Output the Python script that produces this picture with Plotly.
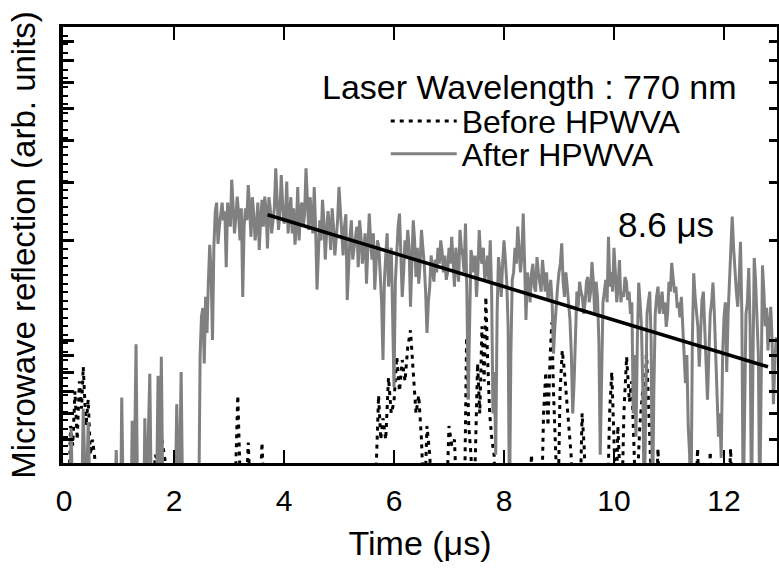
import numpy as np
import plotly.graph_objects as go

# ---------------- data ----------------
# After HPWVA: early spikes (explicit times, µs) ; values in arb. units (log axis)
after_pre_t = [0.00, 0.10, 0.13, 0.16, 0.32, 0.35, 0.40, 0.44, 0.48, 0.92, 0.95, 0.98,
               1.03, 1.05, 1.08, 1.22, 1.24, 1.27, 1.31, 1.34, 1.45, 1.47, 1.50, 1.56,
               1.59, 1.68, 1.71, 1.74, 1.77, 1.80, 2.02, 2.05, 2.09, 2.13, 2.16, 2.42]
after_pre_v = [0.30, 0.30, 0.54, 0.30, 0.30, 0.62, 0.30, 0.565, 0.30, 0.30, 0.465, 0.30,
               0.30, 0.67, 0.30, 0.30, 0.57, 0.30, 0.97, 0.30, 0.30, 0.58, 0.30, 0.79,
               0.30, 0.30, 0.78, 0.30, 0.89, 0.30, 0.30, 0.64, 0.30, 0.80, 0.30, 0.30]

# After HPWVA: main trace, samples every 0.05 µs starting at 2.45 µs ...
after_start = 2.45
after_step = 0.05
after_v = [
    0.30, 1.18, 0.85, 1.05, 1.94, 1.00, 2.44, 1.95, 2.44, 2.30,
    1.66, 2.36, 3.05, 2.10, 2.71, 2.00, 1.35, 2.50, 2.94, 2.05,
    2.41, 2.20, 1.87, 2.65, 2.71, 1.89, 2.50, 2.36, 3.30, 2.15,
    3.15, 2.25, 3.01, 2.41, 2.10, 1.94, 2.90, 2.50, 2.20, 3.30,
    2.15, 2.35, 2.90, 1.42, 2.30, 2.65, 1.75, 2.45, 1.87, 2.20,
    2.05, 2.90, 2.00, 2.20, 1.32, 2.05, 1.75, 2.10, 1.66, 2.05,
    1.87, 1.48, 2.41, 1.75, 1.42, 2.00, 1.60, 0.87, 1.80, 1.45,
    1.90, 0.72, 1.90, 2.41, 1.35, 2.00, 2.15, 1.26, 2.30, 1.55,
    1.48, 2.15, 1.70, 1.05, 1.45, 1.63, 1.75, 1.90, 2.00, 1.60,
    1.52, 1.90, 2.05, 1.45, 1.70, 2.15, 1.80, 2.25, 0.66, 1.87,
    1.60, 1.35, 2.15, 1.70, 1.52, 1.80, 2.00, 0.60, 0.45, 1.78,
    1.35, 2.00, 1.50, 0.30, 1.52, 1.90, 2.20, 1.60, 2.41, 1.15,
    1.50, 1.59, 1.45, 1.78, 1.50, 1.745, 1.40, 1.32, 1.52, 0.91,
    1.30, 1.60, 1.96, 1.35, 1.45, 1.15, 0.60, 1.00, 1.26, 1.40,
    1.20, 1.50, 1.30, 1.72, 1.20, 1.35, 0.45, 1.30, 1.52, 2.05,
    1.60, 1.90, 1.30, 1.745, 1.40, 1.55, 1.32, 1.20, 0.60, 0.51,
    1.49, 1.10, 0.30, 1.20, 1.40, 0.30, 1.20, 1.45, 1.32, 1.20,
    1.095, 1.50, 1.71, 1.39, 1.25, 1.17, 1.10, 0.74, 0.55, 0.30,
    1.59, 1.20, 0.83, 1.32, 1.10, 0.66, 1.20, 1.49, 0.90, 0.51,
    0.44, 1.17, 0.80, 1.50, 2.36, 1.60, 1.26, 1.98, 0.30, 1.20,
    1.65, 0.30, 1.77, 1.20, 0.30, 1.68, 1.10, 0.93, 1.26, 0.64,
    1.02,
]
# ... and the in-between samples (at +0.025 µs after each of the above)
after_mid_v = [
    0.90, 1.25, 1.35, 1.50, 1.60, 1.90, 2.60, 2.20, 2.60, 2.45,
    2.60, 2.20, 2.50, 2.35, 2.40, 2.50, 2.20, 2.30, 2.50, 2.70,
    2.00, 2.60, 2.30, 2.20, 2.45, 2.70, 2.10, 2.50, 2.60, 2.40,
    2.60, 2.30, 2.10, 2.70, 2.50, 2.20, 2.00, 2.60, 2.40, 2.50,
    2.70, 2.10, 2.20, 1.90, 2.00, 2.30, 2.10, 2.20, 2.50, 1.80,
    2.30, 2.40, 1.80, 2.40, 1.70, 2.30, 1.90, 2.20, 2.30, 1.70,
    2.10, 1.90, 2.00, 2.10, 1.70, 1.90, 1.30, 1.50, 2.10, 1.70,
    1.20, 1.50, 2.20, 1.80, 1.60, 1.80, 1.90, 1.70, 2.00, 1.90,
    1.70, 1.90, 1.40, 1.30, 1.80, 1.50, 1.60, 1.70, 1.85, 1.80,
    1.60, 1.70, 1.75, 1.90, 1.50, 1.90, 1.60, 1.40, 1.20, 1.75,
    1.80, 1.60, 1.80, 1.90, 1.60, 1.50, 1.40, 0.80, 1.20, 1.60,
    1.70, 1.75, 1.10, 0.90, 1.60, 1.70, 1.90, 1.80, 1.70, 1.60,
    1.30, 1.70, 1.40, 1.60, 1.40, 1.55, 1.60, 1.40, 1.30, 1.10,
    1.45, 1.70, 1.50, 1.60, 1.30, 0.90, 0.75, 1.40, 1.50, 1.35,
    1.30, 1.55, 1.40, 1.50, 1.50, 1.00, 0.80, 1.40, 1.30, 1.45,
    1.40, 1.60, 1.45, 1.30, 1.35, 1.50, 1.40, 1.30, 0.90, 1.00,
    1.30, 0.70, 0.60, 1.30, 1.00, 0.70, 1.35, 1.20, 1.40, 1.30,
    1.20, 1.40, 1.50, 1.45, 1.30, 1.35, 1.00, 0.90, 0.45, 1.00,
    1.35, 1.10, 1.00, 1.40, 0.95, 0.90, 1.30, 1.20, 0.70, 0.60,
    0.90, 1.30, 1.20, 1.80, 1.90, 1.40, 1.50, 1.20, 0.60, 1.30,
    1.10, 0.80, 1.50, 0.90, 0.70, 1.40, 1.25, 1.10, 1.00, 0.85,
]

# Before HPWVA (explicit times, µs)
before_t = [0.00, 0.08, 0.12, 0.16, 0.20, 0.24, 0.28, 0.32, 0.35, 0.40, 0.44, 0.48, 0.52, 0.56, 0.60,
            1.60, 1.66, 1.72, 1.78, 1.84, 1.88,
            3.10, 3.16, 3.22, 3.30, 3.35, 3.40, 3.55, 3.60, 3.65,
            5.65, 5.72, 5.76, 5.80, 5.85, 5.90, 5.95, 6.00, 6.05, 6.10, 6.15, 6.20, 6.25, 6.30,
            6.35, 6.40, 6.45, 6.50, 6.55, 6.60, 6.65, 6.70,
            6.95, 7.00, 7.05, 7.10, 7.15,
            7.28, 7.32, 7.36, 7.40, 7.44, 7.48, 7.52, 7.56, 7.60, 7.64, 7.67, 7.70, 7.74, 7.78, 7.82, 7.86,
            8.45, 8.50, 8.55,
            8.68, 8.72, 8.76, 8.80, 8.84, 8.87, 8.90, 8.94, 8.98, 9.02, 9.06, 9.10, 9.14, 9.18, 9.22, 9.26,
            9.38, 9.42, 9.46, 9.50,
            9.88, 9.92, 9.96, 10.00, 10.04, 10.07, 10.10, 10.14, 10.18, 10.23, 10.28, 10.32, 10.36, 10.40,
            10.47, 10.52, 10.56, 10.59, 10.62, 10.66, 10.70,
            10.76, 10.80, 10.84,
            11.48, 11.52, 11.56, 11.71, 11.75, 11.79, 12.08, 12.12, 12.16, 12.95]
before_v = [0.30, 0.30, 0.55, 0.48, 0.70, 0.50, 0.75, 0.62, 0.83, 0.55, 0.66, 0.45, 0.50, 0.44, 0.30,
            0.30, 0.45, 0.42, 0.50, 0.43, 0.30,
            0.30, 0.68, 0.30, 0.30, 0.49, 0.30, 0.30, 0.49, 0.30,
            0.30, 0.68, 0.50, 0.58, 0.50, 0.77, 0.60, 0.65, 0.89, 0.70, 0.87, 0.75, 0.95, 1.07,
            0.80, 0.60, 0.68, 0.50, 0.30, 0.55, 0.45, 0.30,
            0.30, 0.55, 0.48, 0.50, 0.30,
            0.30, 1.02, 0.55, 0.45, 0.30, 0.45, 0.85, 0.60, 1.10, 0.75, 1.35, 0.90, 0.60, 0.50, 0.45, 0.30,
            0.30, 0.45, 0.30,
            0.30, 0.60, 0.80, 0.55, 0.90, 1.13, 0.70, 0.50, 0.30, 0.70, 0.93, 0.80, 0.65, 0.55, 0.45, 0.30,
            0.30, 0.60, 0.47, 0.30,
            0.30, 0.60, 0.80, 0.50, 0.30, 0.55, 0.45, 0.30, 0.60, 0.89, 0.65, 0.75, 0.50, 0.30,
            0.55, 0.70, 0.60, 0.93, 0.70, 0.45, 0.30,
            0.30, 0.47, 0.30,
            0.30, 0.47, 0.30, 0.30, 0.46, 0.30, 0.30, 0.47, 0.30, 0.30]

# exponential fit (tau = 8.6 µs) end points
fit_t = [3.70, 12.80]
fit_v = [2.39, 0.83]
fit_label = "8.6 μs"

legend_title = "Laser Wavelength : 770 nm"
x_ticks = [0, 2, 4, 6, 8, 10, 12]

# ---------------- figure ----------------
main_v = []
for a, m in zip(after_v, after_mid_v):
    main_v += [a, m]
main_v.append(after_v[-1])
main_t = list(np.round(after_start + (after_step / 2) * np.arange(len(main_v)), 4))
after_t_all = after_pre_t + main_t
after_v_all = after_pre_v + main_v

FONT = "Arial, Liberation Sans, sans-serif"
GRAY = "#808080"

fig = go.Figure()
fig.add_trace(go.Scatter(
    x=before_t, y=before_v, mode="lines", name="Before HPWVA",
    line=dict(color="black", width=3, dash="4px,5px"), legend="legend"))
fig.add_trace(go.Scatter(
    x=after_t_all, y=after_v_all, mode="lines", name="After HPWVA",
    line=dict(color=GRAY, width=3), legend="legend2"))
fig.add_trace(go.Scatter(
    x=fit_t, y=fit_v, mode="lines", showlegend=False,
    line=dict(color="black", width=3.5)))
# carriers for the extra tick axes
fig.add_trace(go.Scatter(x=[None], y=[None], yaxis="y2", showlegend=False, hoverinfo="skip"))
fig.add_trace(go.Scatter(x=[None], y=[None], yaxis="y3", showlegend=False, hoverinfo="skip"))

ylo, yhi = -0.3716, 0.9456

fig.update_layout(
    width=779, height=569,
    margin=dict(l=63, r=2, t=27, b=106),
    paper_bgcolor="white", plot_bgcolor="white",
    font=dict(family=FONT, color="black"),
    xaxis=dict(
        range=[-0.018, 12.964], tickvals=x_ticks, ticks="inside", ticklen=13, tickwidth=2,
        tickcolor="black", showline=True, linewidth=3, linecolor="black", mirror="ticks",
        showgrid=False, zeroline=False, tickfont=dict(size=30, family=FONT), automargin=False,
        ticklabelstandoff=9,
        title=dict(text="Time (μs)", font=dict(size=34, family=FONT), standoff=16),
    ),
    yaxis=dict(
        type="log", range=[ylo, yhi], ticks="inside", ticklen=11, tickwidth=3, dtick="D1",
        tickcolor="black", showline=True, linewidth=4, linecolor="black",
        showgrid=False, zeroline=False, showticklabels=False, automargin=False,
        title=dict(text="Microwave reflection (arb. units)", font=dict(size=33, family=FONT),
                   standoff=14),
    ),
    yaxis2=dict(
        type="log", range=[ylo, yhi], overlaying="y", side="right", anchor="x",
        ticks="inside", ticklen=8, tickwidth=3, dtick="D1", tickcolor="black",
        showline=True, linewidth=3, linecolor="black", automargin=False,
        showgrid=False, zeroline=False, showticklabels=False,
    ),
    yaxis3=dict(
        range=[0, 1], overlaying="y", side="left", anchor="x", automargin=False,
        ticks="inside", ticklen=5, tickwidth=2, dtick=0.0196, tick0=0, tickcolor="black",
        showline=False, showgrid=False, zeroline=False, showticklabels=False,
    ),
    legend=dict(x=0.452, y=0.784, xanchor="left", yanchor="middle", bgcolor="rgba(0,0,0,0)",
                font=dict(size=32, family=FONT), itemwidth=66),
    legend2=dict(x=0.452, y=0.709, xanchor="left", yanchor="middle", bgcolor="rgba(0,0,0,0)",
                 font=dict(size=32, family=FONT), itemwidth=66),
    annotations=[
        dict(text=legend_title, xref="paper", yref="paper", x=0.654, y=0.862,
             xanchor="center", yanchor="middle", showarrow=False,
             font=dict(size=34, family=FONT, color="black")),
        dict(text=fit_label, xref="x", yref="y", x=10.95, y=float(np.log10(2.23)),
             xanchor="center", yanchor="middle", showarrow=False,
             font=dict(size=35, family=FONT, color="black")),
    ],
)

fig.write_html(
    "out.html",
    config={"displayModeBar": False},
    post_script="document.body.style.margin='0';document.body.style.overflow='hidden';",
)
